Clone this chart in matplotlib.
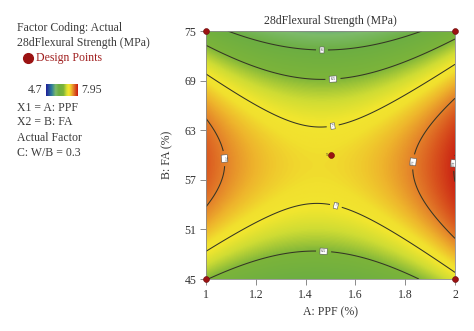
import numpy as np
import matplotlib.pyplot as plt
from matplotlib.colors import LinearSegmentedColormap

plt.rcParams['font.family'] = ['Liberation Serif', 'DejaVu Serif']

# fitted quadratic model in coded factors (A: PPF, B: FA)
coef_names = ['Intercept', 'A', 'B', 'AB', 'A^2', 'B^2']
coef_vals = [7.12, 0.12, -0.22, -0.06, 0.66, -1.30]

ppf_range = [1.0, 2.0]
fa_range = [45.0, 75.0]
z_min, z_max = 4.7, 7.95

contour_levels = [6.0, 6.5, 7.0, 7.5, 7.9]
label_pos = [(1.466, 73.1), (1.51, 69.1), (1.51, 63.3), (1.084, 59.6),
             (1.823, 59.2), (1.988, 59.0), (1.53, 54.9), (1.474, 49.4)]

# design points
ppf_pts = [1.0, 1.0, 2.0, 2.0, 1.5]
fa_pts = [45.0, 75.0, 45.0, 75.0, 60.0]
center_reps = '5'

xticks = [1, 1.2, 1.4, 1.6, 1.8, 2]
xtick_labels = ['1', '1.2', '1.4', '1.6', '1.8', '2']
yticks = [45, 51, 57, 63, 69, 75]

cmap = LinearSegmentedColormap.from_list('de', [
    (0.00, '#1f1f9a'),
    (0.18, '#2f7f9a'),
    (0.30, '#7dbb6a'),
    (0.40, '#6cae42'),
    (0.55, '#7cb43a'),
    (0.64, '#cfdc34'),
    (0.70, '#f2e62e'),
    (0.74, '#f1e02e'),
    (0.80, '#eeb42c'),
    (0.86, '#e4822a'),
    (0.92, '#d9541e'),
    (1.00, '#c81c12'),
])

x = np.linspace(ppf_range[0], ppf_range[1], 301)
y = np.linspace(fa_range[0], fa_range[1], 301)
X, Y = np.meshgrid(x, y)
a = (X - 1.5) / 0.5
b = (Y - 60.0) / 15.0
c0, c1, c2, c12, c11, c22 = coef_vals
Z = c0 + c1 * a + c2 * b + c12 * a * b + c11 * a ** 2 + c22 * b ** 2

fig = plt.figure(figsize=(4.74, 3.31), dpi=100)
ax = fig.add_axes([206 / 474, 1 - 279 / 331, 249 / 474, 248 / 331])

ax.imshow(Z, extent=[1, 2, 45, 75], origin='lower', aspect='auto',
          cmap=cmap, vmin=z_min, vmax=z_max, interpolation='bilinear')
cs = ax.contour(X, Y, Z, levels=contour_levels, colors='#353525', linewidths=0.75)
labels = ax.clabel(cs, contour_levels, manual=label_pos, inline=True,
                   fontsize=3, fmt=lambda v: f'{v:g}')
for t in labels:
    t.set_color('#333333')
    t.set_bbox(dict(boxstyle='square,pad=0.25', fc='white', ec='#555555', lw=0.4))

ax.scatter(ppf_pts, fa_pts, s=18, color='#9b1212', edgecolors='#6a0a0a',
           linewidths=0.4, zorder=5, clip_on=False)
ax.text(1.49, 60.0, center_reps, fontsize=3.5, ha='right', va='center', color='#333333')

ax.set_xlim(1, 2)
ax.set_ylim(45, 75)
ax.set_xticks(xticks)
ax.set_xticklabels(xtick_labels)
ax.set_yticks(yticks)
ax.tick_params(labelsize=8.5, length=4, width=0.6, color='#777777',
               labelcolor='#333333', pad=3)
for sp in ax.spines.values():
    sp.set_color('#8a8a8a')
    sp.set_linewidth(0.6)

ax.set_title('28dFlexural Strength (MPa)', fontsize=8.5, color='#333333', pad=5)
ax.set_xlabel('A: PPF (%)', fontsize=8.5, color='#333333', labelpad=4)
ax.set_ylabel('B: FA (%)', fontsize=8.5, color='#333333', labelpad=8)

# left info panel
W, H = 474.0, 331.0
txt = dict(fontsize=8.5, color='#3a3a3a', va='center', ha='left')
fig.text(17 / W, 1 - 28 / H, 'Factor Coding: Actual', **txt)
fig.text(17 / W, 1 - 43 / H, '28dFlexural Strength (MPa)', **txt)
fig.text(36 / W, 1 - 58 / H, 'Design Points', fontsize=8.5, color='#a01f1f',
         va='center', ha='left')
fig.add_artist(plt.Line2D([28 / W], [1 - 58 / H], marker='o', markersize=7,
                          color='#9b1212', transform=fig.transFigure))

cax = fig.add_axes([46 / W, 1 - 96 / H, 32 / W, 12 / H])
cax.imshow(np.linspace(0, 1, 128)[None, :], aspect='auto', cmap=cmap)
cax.set_xticks([])
cax.set_yticks([])
for sp in cax.spines.values():
    sp.set_visible(False)
fig.text(42 / W, 1 - 90 / H, f'{z_min:g}', fontsize=8.5, color='#3a3a3a',
         va='center', ha='right')
fig.text(81 / W, 1 - 90 / H, f'{z_max:g}', fontsize=8.5, color='#3a3a3a',
         va='center', ha='left')

fig.text(17 / W, 1 - 108 / H, 'X1 = A: PPF', **txt)
fig.text(17 / W, 1 - 122 / H, 'X2 = B: FA', **txt)
fig.text(17 / W, 1 - 138 / H, 'Actual Factor', **txt)
fig.text(17 / W, 1 - 153 / H, 'C: W/B = 0.3', **txt)

fig.savefig('out.png', dpi=100)
